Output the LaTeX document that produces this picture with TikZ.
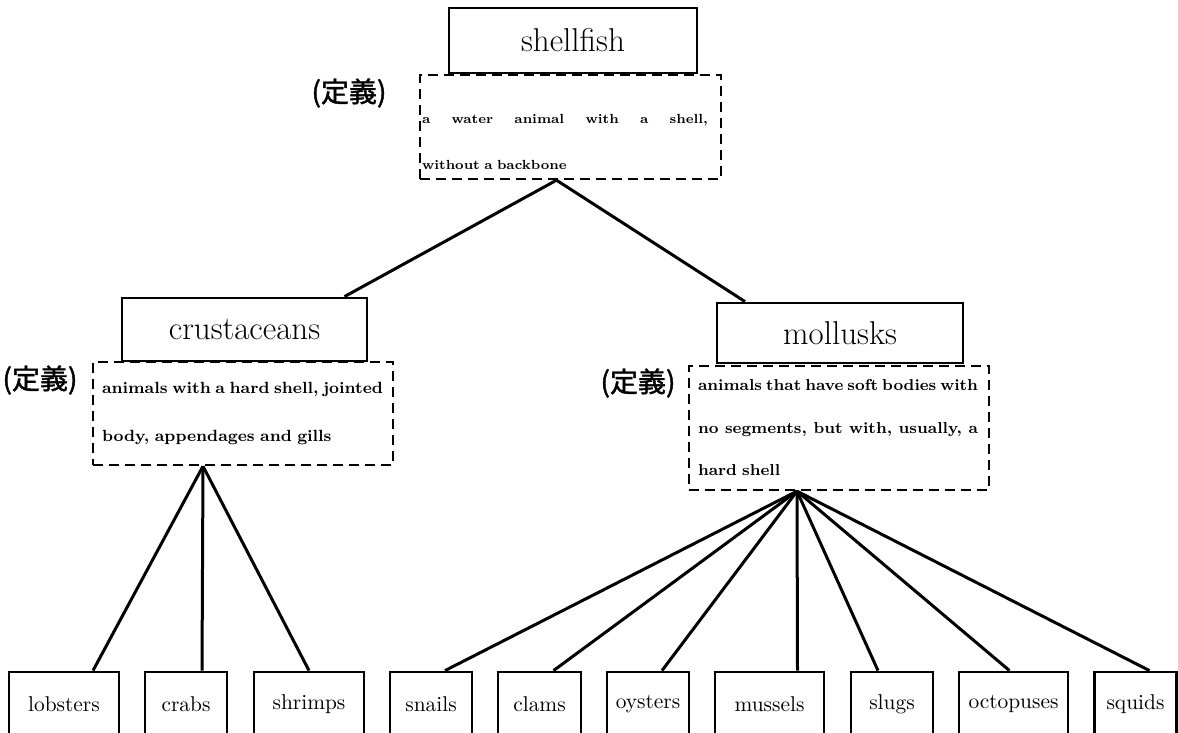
\documentclass[tikz,border=0pt]{standalone}
\usepackage{fontspec}
\usepackage{tikz}
\newfontfamily\jpfont{Noto Sans CJK JP}[FakeBold=1.5]
\newcommand{\teigi}[3]{
    \node[font=\jpfont\fontsize{14}{16}\selectfont, inner sep=0pt] (#1) at (#2,#3) {(定義)}
}

\begin{document}
\begin{tikzpicture}[x=0.5pt, y=-0.5pt,
        catbox/.style={draw, line width=1.4pt, inner sep=0pt, font=\fontsize{16.5}{18}\selectfont},
        defbox/.style={draw, line width=1.2pt, dash pattern=on 5pt off 3pt, inner ysep=0pt, align=left, text width=141pt, inner xsep=4.5pt, minimum width=150pt},
        leaf/.style={draw, line width=1.4pt, inner sep=0pt, minimum height=32pt, font=\fontsize{10.7}{13}\selectfont},
        link/.style={line width=1.5pt}]
            \useasboundingbox (0,0) rectangle (1178,733);
            \clip (0,0) rectangle (1178,733);

            \node[catbox, minimum width=124pt, minimum height=32.5pt] (shellfish) at (573,40.5) {shellfish};
            \node[defbox, text width=148.5pt, inner xsep=1pt, minimum width=150.5pt, minimum height=52pt, text depth=8pt, font=\fontsize{6.6}{23}\selectfont\bfseries] (shellfishdef) at (570.5,127)
                {\makebox[143pt][s]{a\hfill water\hfill animal\hfill with\hfill a\hfill shell,}\\without a backbone};
            \teigi{shellfishteigi}{349}{93};

            \node[catbox, minimum width=122.5pt, minimum height=31.5pt] (crus) at (244.5,329.5) {crustaceans};
            \node[defbox, minimum height=51.5pt, font=\fontsize{8.1}{24}\selectfont\bfseries] (crusdef) at (243,413.5)
                {\makebox[140.5pt][s]{animals\hfill with\hfill a\hfill hard\hfill shell,\hfill jointed}\\body, appendages and gills};
            \teigi{crusteigi}{40}{380};

            \node[catbox, minimum width=123pt, minimum height=30pt] (moll) at (840,333) {mollusks};
            \node[defbox, minimum height=62pt, font=\fontsize{7.9}{21.25}\selectfont\bfseries] (molldef) at (839,428)
                {\makebox[140pt][s]{animals\hfill that\hfill have\hfill soft\hfill bodies\hfill with}\\\makebox[140pt][s]{no\hfill segments,\hfill but\hfill with,\hfill usually,\hfill a}\\hard shell};
            \teigi{mollteigi}{638}{383};

            \foreach \name/\cx/\w in {lobsters/64/55pt, crabs/186/41pt, shrimps/309/55pt, snails/431/41pt, clams/539.5/41.5pt,
                    oysters/648/41pt, mussels/769.5/54.5pt, slugs/892/41pt, octopuses/1013.5/54.5pt, squids/1135.5/41pt}
                \node[leaf, minimum width=\w] (\name) at (\cx,704) {\name};

            \coordinate (shellfishfork) at ([xshift=-7pt]shellfishdef.south);
            \coordinate (crusfork) at ([xshift=-20pt]crusdef.south);
            \coordinate (mollfork) at ([xshift=-21pt]molldef.south);

            \draw[link] (shellfishfork) -- ([xshift=50pt]crus.north);
            \draw[link] (shellfishfork) -- ([xshift=-47.5pt]moll.north);
            \foreach \name/\dx in {lobsters/14.5pt, crabs/8pt, shrimps/0pt}
                \draw[link] (crusfork) -- ([xshift=\dx]\name.north);
            \foreach \name/\dx in {snails/7pt, clams/7pt, oysters/7pt, mussels/14pt, slugs/-7pt, octopuses/-2pt, squids/7pt}
                \draw[link] (mollfork) -- ([xshift=\dx]\name.north);
        \end{tikzpicture}
\end{document}
